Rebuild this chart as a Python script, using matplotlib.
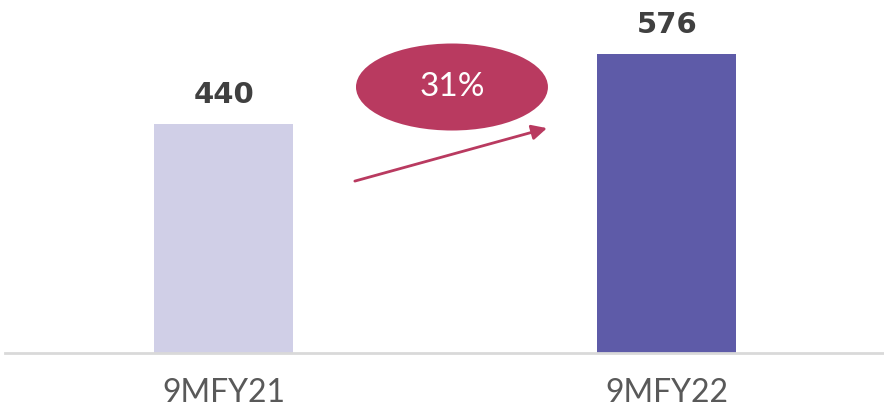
import matplotlib.pyplot as plt
from matplotlib.patches import Ellipse

periods = ["9MFY21", "9MFY22"]
values = [440, 576]
bar_colors = ["#D0CFE7", "#5E5BA8"]
accent = "#B93A60"

growth = round((values[1] / values[0] - 1) * 100)

fig = plt.figure(figsize=(8.84, 4.08), dpi=100)
ax = fig.add_axes([5 / 884, 55 / 408, 879 / 884, 353 / 408])

x = range(len(periods))
bars = ax.bar(x, values, width=0.314, color=bar_colors, zorder=2)

for xi, v in zip(x, values):
    ax.text(xi, v + 40, f"{v}", ha="center", va="baseline", fontsize=21,
            fontweight="bold", color="#404040", family="DejaVu Sans")

ax.set_xlim(-0.494, 1.49)
ax.set_ylim(0, 679)
ax.set_xticks(list(x))
ax.set_xticklabels(periods, fontsize=23, color="#595959", family="Lato")
ax.tick_params(axis="x", length=0, pad=18)
ax.set_yticks([])
for side in ["top", "left", "right"]:
    ax.spines[side].set_visible(False)
ax.spines["bottom"].set_color("#D9D9D9")
ax.spines["bottom"].set_linewidth(2)
ax.spines["bottom"].set_zorder(3)

# growth bubble and arrow between the bars
bubble = Ellipse((0.5085, 0.7535), 0.2184, 0.2465, transform=ax.transAxes,
                 facecolor=accent, edgecolor="none", zorder=3)
ax.add_patch(bubble)
ax.text(0.5085, 0.7535, f"{growth}%", transform=ax.transAxes, ha="center",
        va="center", fontsize=24, color="white", family="Lato", zorder=4)
ax.annotate("", xy=(0.6166, 0.637), xytext=(0.398, 0.487),
            xycoords="axes fraction", textcoords="axes fraction",
            arrowprops=dict(arrowstyle="-|>,head_length=0.9,head_width=0.45",
                            color=accent, lw=2, shrinkA=0, shrinkB=0))

fig.savefig("out.png", dpi=100)
